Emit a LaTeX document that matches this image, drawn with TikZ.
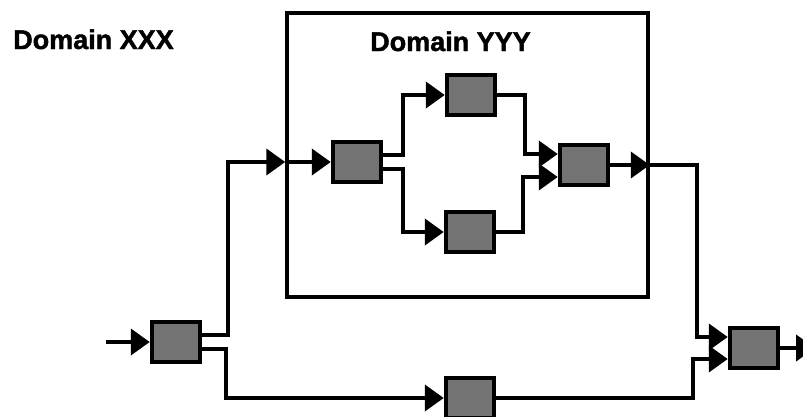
\documentclass[tikz,border=0pt]{standalone}
\usepackage{fontspec}
\setmainfont{Liberation Sans}
\newfontfamily\heavyfont{Liberation Sans Bold}[FakeBold=1.6]
\usepackage{tikz}
\usetikzlibrary{arrows.meta, positioning}

\begin{document}
\begin{tikzpicture}[
  x=1pt, y=-1pt,
  block/.style={rectangle, draw=black, line width=4.5pt, fill=black!55, minimum width=48pt, minimum height=40pt, inner sep=0pt},
  domainbox/.style={rectangle, draw=black, line width=3.5pt, minimum width=361pt, minimum height=284pt, inner sep=0pt},
  domaintext/.style={font=\fontsize{27}{30}\selectfont\heavyfont, anchor=base west, inner sep=0pt},
  arr/.style={-{Triangle[length=19pt, width=26pt]}, line width=4.2pt}
]
  \useasboundingbox (0,0) rectangle (803,416);

  % domains
  \node[domainbox] (domY) at (467.5,155) {};
  \node[domaintext] (labX) at (13,49) {Domain XXX};
  \node[domaintext] (labY) at (370,51) {Domain YYY};

  % blocks
  \node[block] (b1) at (176,342) {};
  \node[block] (b2) at (357,162) {};
  \node[block] (b3) at (471,95) {};
  \node[block] (b4) at (470,232) {};
  \node[block] (b5) at (584,165) {};
  \node[block] (b6) at (470,398) {};
  \node[block] (b7) at (754,348) {};

  \coordinate (in) at (106,342);
  \coordinate (out) at (815,348);
  \coordinate (inY) at (domY.west |- b2.west);
  \coordinate (outY) at (domY.east |- b5.east);

  % main path
  \draw[arr] (in) -- (b1);
  \draw[arr] ([yshift=7pt]b1.east) -- ++(26,0) |- (inY);
  \draw[arr] (inY) -- (b2);
  \draw[arr] ([yshift=-7pt]b1.east) -- ++(24,0) |- (b6.west);

  % inside domain YYY
  \draw[arr] ([yshift=7pt]b2.east) -- ++(20,0) |- (b3.west);
  \draw[arr] ([yshift=-7pt]b2.east) -- ++(20,0) |- (b4.west);
  \draw[arr] (b3.east) -- ++(28,0) |- ([yshift=11pt]b5.west);
  \draw[arr] (b4.east) -- ++(27,0) |- ([yshift=-12pt]b5.west);
  \draw[arr] (b5) -- (outY);

  % merge
  \draw[arr] (outY) -- ++(47,0) |- ([yshift=11pt]b7.west);
  \draw[arr] (b6.east) -- ++(197,0) |- ([yshift=-11pt]b7.west);
  \draw[arr] (b7) -- (out);
\end{tikzpicture}
\end{document}
